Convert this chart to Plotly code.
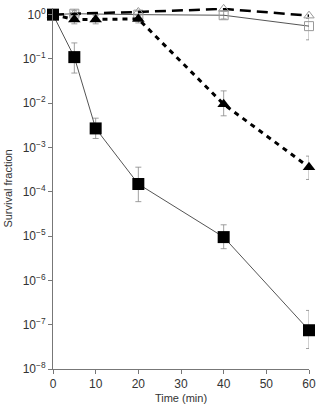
import plotly.graph_objects as go

time_fs = [0, 5, 10, 20, 40, 60]
val_fs = [1.0, 0.11, 2.7e-3, 1.5e-4, 9.5e-6, 7.5e-8]
hi_fs = [1.0, 0.23, 4.6e-3, 3.6e-4, 1.8e-5, 2.1e-7]
lo_fs = [1.0, 0.048, 1.6e-3, 6.0e-5, 5.2e-6, 2.9e-8]

time_ft = [0, 5, 10, 20, 40, 60]
val_ft = [1.0, 0.78, 0.78, 0.8, 9.5e-3, 3.6e-4]
hi_ft = [1.0, 0.95, 0.95, 0.95, 1.9e-2, 6.4e-4]
lo_ft = [1.0, 0.62, 0.62, 0.65, 5.2e-3, 1.9e-4]

time_os = [0, 5, 20, 40, 60]
val_os = [1.0, 1.05, 1.0, 0.97, 0.55]
hi_os = [1.0, 1.25, 1.2, 1.2, 0.82]
lo_os = [1.0, 0.85, 0.82, 0.8, 0.27]

time_ot = [0, 5, 20, 40, 60]
val_ot = [1.0, 1.05, 1.15, 1.35, 0.95]

y_tickvals = [1e-8, 1e-7, 1e-6, 1e-5, 1e-4, 1e-3, 1e-2, 1e-1, 1]
y_ticktext = ["10<sup>\u22128</sup>", "10<sup>\u22127</sup>", "10<sup>\u22126</sup>",
              "10<sup>\u22125</sup>", "10<sup>\u22124</sup>", "10<sup>\u22123</sup>",
              "10<sup>\u22122</sup>", "10<sup>\u22121</sup>", "10<sup>0</sup>"]
x_tickvals = [0, 10, 20, 30, 40, 50, 60]


def err(val, hi, lo):
    return dict(type="data", symmetric=False,
                array=[h - v for h, v in zip(hi, val)],
                arrayminus=[v - l for v, l in zip(val, lo)],
                color="#888888", thickness=0.8, width=3)


fig = go.Figure()
fig.add_trace(go.Scatter(x=time_os, y=val_os, mode="lines+markers",
                         line=dict(color="#555555", width=1),
                         marker=dict(symbol="square-open", size=9, color="#999999", line=dict(width=1)),
                         error_y=err(val_os, hi_os, lo_os), cliponaxis=False))
fig.add_trace(go.Scatter(x=time_ot, y=val_ot, mode="lines+markers",
                         line=dict(color="black", width=2.5, dash="11px,6px"),
                         marker=dict(symbol="triangle-up-open", size=9, color="#999999", line=dict(width=1)),
                         cliponaxis=False))
fig.add_trace(go.Scatter(x=time_ft, y=val_ft, mode="lines+markers",
                         line=dict(color="black", width=3, dash="5px,5px"),
                         marker=dict(symbol="triangle-up", size=11, color="black"),
                         error_y=err(val_ft, hi_ft, lo_ft), cliponaxis=False))
fig.add_trace(go.Scatter(x=time_fs, y=val_fs, mode="lines+markers",
                         line=dict(color="#555555", width=1),
                         marker=dict(symbol="square", size=12, color="black"),
                         error_y=err(val_fs, hi_fs, lo_fs), cliponaxis=False))

fig.update_layout(
    width=322, height=408,
    margin=dict(l=53, r=10, t=6, b=38),
    plot_bgcolor="white", paper_bgcolor="white",
    showlegend=False,
    font=dict(family="Liberation Sans, Arial, sans-serif", size=12, color="#333333"),
    xaxis=dict(range=[0, 60], tickvals=x_tickvals, ticks="outside", ticklen=4,
               tickcolor="#777777", showline=True, linecolor="#777777", linewidth=1,
               showgrid=False, zeroline=False, tickfont=dict(size=12),
               title=dict(text="Time (min)", standoff=3, font=dict(size=11))),
    yaxis=dict(type="log", range=[-8, 0.15], tickvals=y_tickvals, ticktext=y_ticktext,
               ticks="outside", ticklen=4, tickcolor="#777777",
               showline=True, linecolor="#777777", linewidth=1,
               showgrid=False, zeroline=False, tickfont=dict(size=12),
               title=dict(text="Survival fraction", standoff=7, font=dict(size=11))),
)

fig.write_html("out.html")
